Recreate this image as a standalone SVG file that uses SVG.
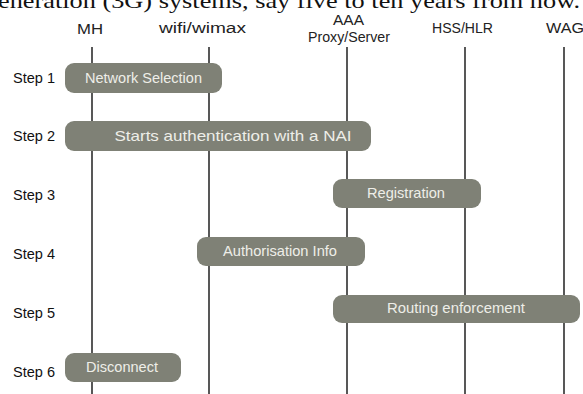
<svg xmlns="http://www.w3.org/2000/svg" width="583" height="394" viewBox="0 0 583 394">
<style>
.bg{fill:#ffffff}
.life{stroke:#111;stroke-width:1.4}
.box{fill:#7f8176}
.bt{font-family:"Liberation Sans",Arial,sans-serif;font-size:14.5px;fill:#eeeee8;text-anchor:middle}
.hd{font-family:"Liberation Sans",Arial,sans-serif;font-size:14px;fill:#222}
.st{font-family:"Liberation Sans",Arial,sans-serif;font-size:14px;fill:#111}
.top{font-family:"Liberation Serif","Times New Roman",serif;font-size:22px;fill:#111}
</style>
<rect class="bg" x="0" y="0" width="583" height="394"/>
<text class="top" x="-2" y="8" textLength="582" lengthAdjust="spacingAndGlyphs">eneration (3G) systems, say five to ten years from now.</text>
<g id="headers">
<text class="hd" x="77" y="34" textLength="26" lengthAdjust="spacingAndGlyphs">MH</text>
<text class="hd" x="159" y="33" font-size="17" textLength="87" lengthAdjust="spacingAndGlyphs" fill="#1a1a3a">wifi/wimax</text>
<text class="hd" x="333" y="25" textLength="31" lengthAdjust="spacingAndGlyphs">AAA</text>
<text class="hd" x="308" y="42" textLength="82" lengthAdjust="spacingAndGlyphs">Proxy/Server</text>
<text class="hd" x="432" y="33" textLength="61" lengthAdjust="spacingAndGlyphs">HSS/HLR</text>
<text class="hd" x="546" y="33" textLength="38" lengthAdjust="spacingAndGlyphs">WAG</text>
</g>
<g id="connectors">
<line class="life" x1="92" y1="47" x2="92" y2="394"/>
<line class="life" x1="209" y1="47" x2="209" y2="394"/>
<line class="life" x1="347" y1="47" x2="347" y2="394"/>
<line class="life" x1="465" y1="47" x2="465" y2="394"/>
<line class="life" x1="564" y1="47" x2="564" y2="394"/>
</g>
<g id="steps">
<text class="st" x="13" y="83" textLength="42" lengthAdjust="spacingAndGlyphs">Step 1</text>
<text class="st" x="13" y="141" textLength="42" lengthAdjust="spacingAndGlyphs">Step 2</text>
<text class="st" x="13" y="200" textLength="42" lengthAdjust="spacingAndGlyphs">Step 3</text>
<text class="st" x="13" y="259" textLength="42" lengthAdjust="spacingAndGlyphs">Step 4</text>
<text class="st" x="13" y="318" textLength="42" lengthAdjust="spacingAndGlyphs">Step 5</text>
<text class="st" x="13" y="377" textLength="42" lengthAdjust="spacingAndGlyphs">Step 6</text>
</g>
<g id="step1">
<rect class="box" x="65" y="63" width="157" height="30" rx="9"/>
<text class="bt" x="143.5" y="83" textLength="117" lengthAdjust="spacingAndGlyphs">Network Selection</text>
</g>
<g id="step2">
<rect class="box" x="65" y="121" width="306" height="30" rx="9"/>
<text class="bt" x="233" y="141" textLength="237" lengthAdjust="spacingAndGlyphs">Starts authentication with a NAI</text>
</g>
<g id="step3">
<rect class="box" x="333" y="179" width="148" height="29" rx="9"/>
<text class="bt" x="406" y="198" textLength="78" lengthAdjust="spacingAndGlyphs">Registration</text>
</g>
<g id="step4">
<rect class="box" x="197" y="237" width="168" height="29" rx="9"/>
<text class="bt" x="280" y="256" textLength="114" lengthAdjust="spacingAndGlyphs">Authorisation Info</text>
</g>
<g id="step5">
<rect class="box" x="333" y="295" width="247" height="28" rx="9"/>
<text class="bt" x="456" y="313" textLength="138" lengthAdjust="spacingAndGlyphs">Routing enforcement</text>
</g>
<g id="step6">
<rect class="box" x="65" y="353" width="116" height="29" rx="9"/>
<text class="bt" x="122" y="372" textLength="72" lengthAdjust="spacingAndGlyphs">Disconnect</text>
</g>
</svg>
